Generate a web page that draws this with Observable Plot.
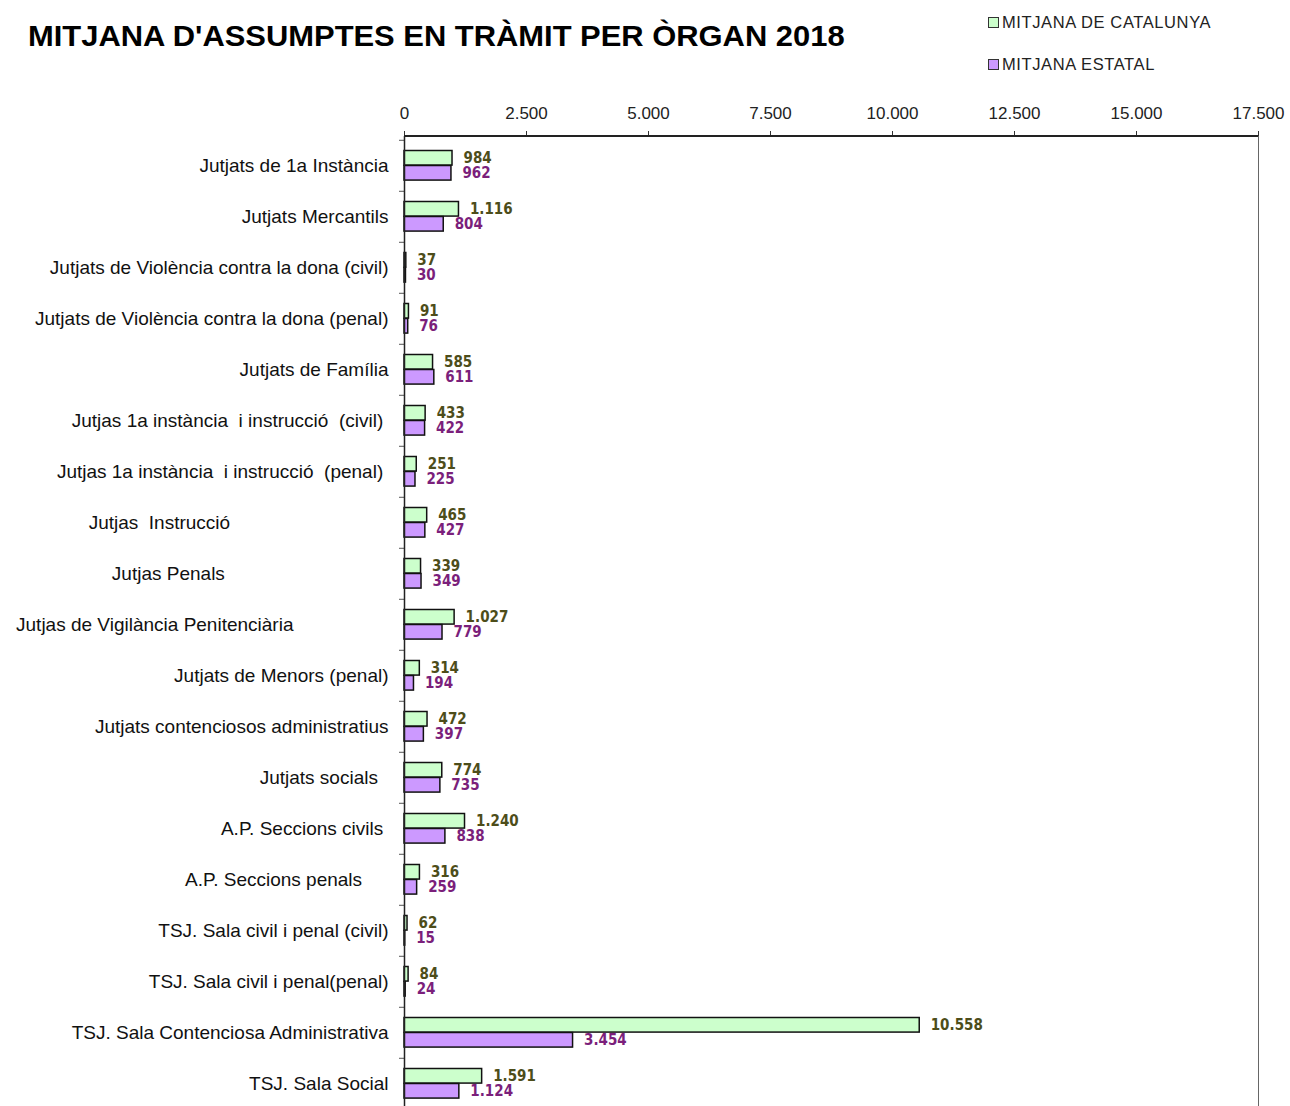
<!DOCTYPE html>
<html>
<head>
<meta charset="utf-8">
<script src="https://cdn.jsdelivr.net/npm/d3@7"></script>
<script src="https://cdn.jsdelivr.net/npm/@observablehq/plot@0.6"></script>
<style>
  html, body { margin: 0; padding: 0; background: #fff; }
  #wrap { position: relative; width: 1290px; height: 1106px; overflow: hidden; }
  #title { position: absolute; left: 28px; top: 18px; font-family: "Liberation Sans", Arial, sans-serif; font-weight: bold; font-size: 30px; line-height: 36px; color: #000; white-space: nowrap; transform-origin: left top; transform: scaleX(1.03); }
  .leg { position: absolute; left: 988px; font-family: "Liberation Sans", Arial, sans-serif; font-size: 16.5px; line-height: 22px; color: #222; letter-spacing: 0.6px; white-space: nowrap; display: flex; align-items: center; }
  .sw { width: 9px; height: 9px; border: 1.5px solid #333; margin-right: 3px; box-sizing: content-box; }
  #chart { position: absolute; left: 0; top: 0; }
  svg text { white-space: pre; }
</style>
</head>
<body>
<div id="wrap">
  <div id="chart"></div>
  <div id="title">MITJANA D'ASSUMPTES EN TRÀMIT PER ÒRGAN 2018</div>
  <div class="leg" style="top:11px"><span class="sw" style="background:#ccffcc"></span>MITJANA DE CATALUNYA</div>
  <div class="leg" style="top:53px"><span class="sw" style="background:#cc99ff"></span>MITJANA ESTATAL</div>
</div>
<script>
const organs = [
  "Jutjats de 1a Instància",
  "Jutjats Mercantils",
  "Jutjats de Violència contra la dona (civil)",
  "Jutjats de Violència contra la dona (penal)",
  "Jutjats de Família",
  "Jutjas 1a instància  i instrucció  (civil) ",
  "Jutjas 1a instància  i instrucció  (penal) ",
  "Jutjas  Instrucció" + " ".repeat(30),
  "Jutjas Penals" + " ".repeat(31),
  "Jutjas de Vigilància Penitenciària" + " ".repeat(18),
  "Jutjats de Menors (penal)",
  "Jutjats contenciosos administratius",
  "Jutjats socials  ",
  "A.P. Seccions civils ",
  "A.P. Seccions penals     ",
  "TSJ. Sala civil i penal (civil)",
  "TSJ. Sala civil i penal(penal)",
  "TSJ. Sala Contenciosa Administrativa",
  "TSJ. Sala Social"
];
const catalunya = [984, 1116, 37, 91, 585, 433, 251, 465, 339, 1027, 314, 472, 774, 1240, 316, 62, 84, 10558, 1591];
const estatal   = [962, 804, 30, 76, 611, 422, 225, 427, 349, 779, 194, 397, 735, 838, 259, 15, 24, 3454, 1124];
const xTicks = [0, 2500, 5000, 7500, 10000, 12500, 15000, 17500];

const fmt = d3.formatLocale({decimal: ",", thousands: ".", grouping: [3], currency: ["", "€"]}).format(",d");
const rows = organs.map((o, i) => ({organ: o, cat: catalunya[i], est: estatal[i]}));

const H = 1113, MT = 136;
const step = (H - MT) / organs.length;
const labelFont = "'Liberation Sans Narrow', 'Arial Narrow', 'DejaVu Sans Condensed', sans-serif";

const chart = Plot.plot({
  width: 1290, height: H,
  marginLeft: 404, marginRight: 32, marginTop: MT, marginBottom: 0,
  style: {fontFamily: "'Liberation Sans', Arial, sans-serif", background: "transparent", color: "#222"},
  x: {domain: [0, 17500], axis: null},
  y: {domain: organs, padding: 0, axis: null},
  marks: [
    Plot.axisX({anchor: "top", ticks: xTicks, tickFormat: fmt, tickSize: 6, tickPadding: 12, fontSize: 17, stroke: "#333", fill: "#222", label: null}),
    Plot.axisY({anchor: "left", tickSize: 0, tickPadding: 16, fontSize: 19, fill: "#111", label: null}),
    Plot.axisY({anchor: "left", tickSize: 5, text: null, dy: -step / 2, stroke: "#555", label: null}),
    Plot.barX(rows, {x: "cat", y: "organ", fill: "#ccffcc", stroke: "#111", strokeWidth: 1.5, insetTop: 10.5, insetBottom: step - 25.5}),
    Plot.barX(rows, {x: "est", y: "organ", fill: "#cc99ff", stroke: "#111", strokeWidth: 1.5, insetTop: 25.5, insetBottom: step - 40.5}),
    Plot.text(rows, {x: "cat", y: "organ", text: d => fmt(d.cat), dx: 11, dy: -7.5, textAnchor: "start", fill: "#4d4d1a", fontWeight: "bold", fontSize: 15, fontFamily: labelFont}),
    Plot.text(rows, {x: "est", y: "organ", text: d => fmt(d.est), dx: 11, dy: 7.5, textAnchor: "start", fill: "#7b1f7b", fontWeight: "bold", fontSize: 15, fontFamily: labelFont}),
    Plot.frame({stroke: "#666", strokeWidth: 1}),
    Plot.ruleX([0], {stroke: "#222", strokeWidth: 1.5})
  ]
});
document.getElementById("chart").appendChild(chart);
// top axis line
d3.select(chart).append("line").attr("x1", 404).attr("x2", 1258).attr("y1", MT).attr("y2", MT).attr("stroke", "#222").attr("stroke-width", 2);
</script>
</body>
</html>
